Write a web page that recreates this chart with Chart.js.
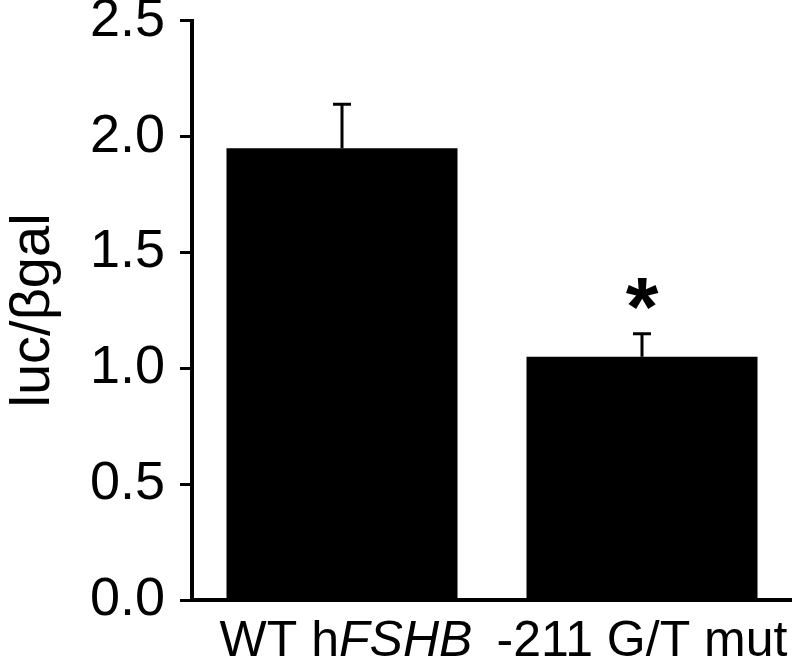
<!DOCTYPE html>
<html>
<head>
  <meta charset="utf-8">
  <title>luc/βgal bar chart</title>
  <script src="https://cdn.jsdelivr.net/npm/chart.js"></script>
  <style>
    html, body { margin: 0; padding: 0; background: #fff; }
    #wrap { width: 792px; height: 660px; }
  </style>
</head>
<body>
  <div id="wrap"><canvas id="barChart" width="792" height="660"></canvas></div>

  <script>
    // data
    const categories = ['WT hFSHB', '-211 G/T mut'];
    const italicParts = ['FSHB', ''];
    const means = [1.95, 1.05];
    const errTops = [2.14, 1.15];
    const sigMarks = ['', '*'];
    const yTicks = [0, 0.5, 1.0, 1.5, 2.0, 2.5];

    const FONT = "'Liberation Sans', Arial, sans-serif";

    // error bars, significance stars and mixed-style category labels
    const extras = {
      id: 'extras',
      afterDatasetsDraw(chart) {
        const ctx = chart.ctx;
        const x = chart.scales.x, y = chart.scales.y;
        ctx.save();
        ctx.strokeStyle = '#000';
        ctx.fillStyle = '#000';
        ctx.lineWidth = 3;
        means.forEach((m, i) => {
          const cx = x.getPixelForValue(i);
          const y0 = y.getPixelForValue(m);
          const y1 = y.getPixelForValue(errTops[i]);
          ctx.beginPath();
          ctx.moveTo(cx, y0);
          ctx.lineTo(cx, y1);
          ctx.moveTo(cx - 9, y1);
          ctx.lineTo(cx + 9, y1);
          ctx.stroke();

          if (sigMarks[i]) {
            ctx.font = 'bold 84px ' + FONT;
            const mt = ctx.measureText(sigMarks[i]);
            const h = mt.actualBoundingBoxAscent + mt.actualBoundingBoxDescent;
            const cy = y1 - 40;
            ctx.textAlign = 'center';
            ctx.textBaseline = 'alphabetic';
            ctx.fillText(sigMarks[i], cx, cy + h / 2 - mt.actualBoundingBoxDescent);
          }
        });

        // x labels with italic gene name
        ctx.textBaseline = 'alphabetic';
        ctx.textAlign = 'left';
        const base = y.bottom + 56;
        categories.forEach((lab, i) => {
          const it = italicParts[i];
          let parts;
          if (it && lab.indexOf(it) >= 0) {
            const k = lab.indexOf(it);
            parts = [[lab.slice(0, k), false], [it, true], [lab.slice(k + it.length), false]];
          } else {
            parts = [[lab, false]];
          }
          let total = 0;
          parts.forEach(p => {
            ctx.font = (p[1] ? 'italic ' : '') + '50px ' + FONT;
            total += ctx.measureText(p[0]).width;
          });
          let px = x.getPixelForValue(i) - total / 2 + (i === 0 ? 4 : 0);
          px = Math.min(px, chart.width - total - 2);
          parts.forEach(p => {
            ctx.font = (p[1] ? 'italic ' : '') + '50px ' + FONT;
            ctx.fillText(p[0], px, base);
            px += ctx.measureText(p[0]).width;
          });
        });
        ctx.restore();
      }
    };

    const ctx = document.getElementById('barChart').getContext('2d');
    const chart = new Chart(ctx, {
      type: 'bar',
      data: {
        labels: categories,
        datasets: [{
          data: means,
          backgroundColor: '#000',
          borderWidth: 0,
          barPercentage: 0.77,
          categoryPercentage: 1.0
        }]
      },
      options: {
        responsive: false,
        animation: false,
        events: [],
        layout: { padding: { top: 0, right: 0, left: 0, bottom: 0 } },
        plugins: { legend: { display: false }, tooltip: { enabled: false } },
        scales: {
          x: {
            grid: { display: false },
            border: { display: true, color: '#000', width: 4 },
            ticks: { display: false },
            afterFit(scale) { scale.height = 60; }
          },
          y: {
            min: 0,
            max: 2.5,
            afterBuildTicks(scale) { scale.ticks = yTicks.map(v => ({ value: v })); },
            grid: {
              drawOnChartArea: false,
              drawTicks: true,
              tickLength: 12,
              tickWidth: 3,
              tickColor: '#000'
            },
            border: { display: true, color: '#000', width: 4 },
            ticks: {
              color: '#000',
              padding: 15,
              font: { family: FONT, size: 54, lineHeight: 0.22 },
              callback: v => Number(v).toFixed(1)
            },
            title: {
              display: true,
              text: 'luc/βgal',
              color: '#000',
              padding: 0,
              font: { family: FONT, size: 56 }
            },
            afterFit(scale) { scale.width = 192; }
          }
        }
      },
      plugins: [extras]
    });
  </script>
</body>
</html>
